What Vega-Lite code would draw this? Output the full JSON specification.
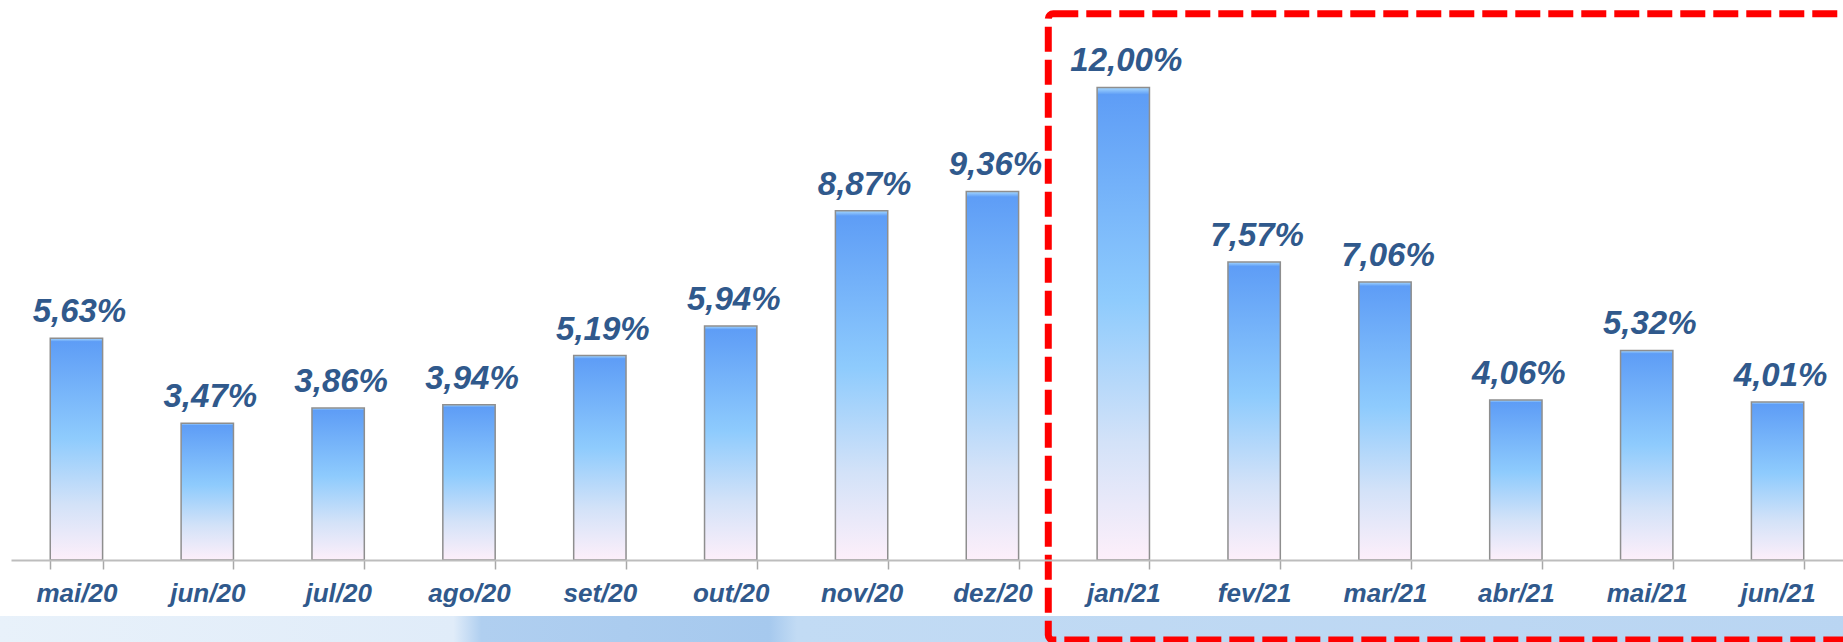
{
  "$schema": "https://vega.github.io/schema/vega-lite/v6.json",
  "width": 1832,
  "height": 560,
  "autosize": {"type": "none"},
  "padding": {"left": 11, "top": 0, "right": 0, "bottom": 82},
  "background": "#FFFFFF",
  "config": {"view": {"stroke": null}},
  "data": {"values": [
    {"mes": "mai/20", "valor": 5.63, "rotulo": "5,63%"},
    {"mes": "jun/20", "valor": 3.47, "rotulo": "3,47%"},
    {"mes": "jul/20", "valor": 3.86, "rotulo": "3,86%"},
    {"mes": "ago/20", "valor": 3.94, "rotulo": "3,94%"},
    {"mes": "set/20", "valor": 5.19, "rotulo": "5,19%"},
    {"mes": "out/20", "valor": 5.94, "rotulo": "5,94%"},
    {"mes": "nov/20", "valor": 8.87, "rotulo": "8,87%"},
    {"mes": "dez/20", "valor": 9.36, "rotulo": "9,36%"},
    {"mes": "jan/21", "valor": 12.00, "rotulo": "12,00%"},
    {"mes": "fev/21", "valor": 7.57, "rotulo": "7,57%"},
    {"mes": "mar/21", "valor": 7.06, "rotulo": "7,06%"},
    {"mes": "abr/21", "valor": 4.06, "rotulo": "4,06%"},
    {"mes": "mai/21", "valor": 5.32, "rotulo": "5,32%"},
    {"mes": "jun/21", "valor": 4.01, "rotulo": "4,01%"}
  ]},
  "encoding": {
    "x": {
      "field": "mes", "type": "nominal", "sort": null,
      "scale": {
        "domain": ["mai/20", "jun/20", "jul/20", "ago/20", "set/20", "out/20", "nov/20", "dez/20", "jan/21", "fev/21", "mar/21", "abr/21", "mai/21", "jun/21"],
        "paddingInner": 0.6, "paddingOuter": 0.3
      },
      "axis": {
        "title": null, "labelAngle": 0, "tickBand": "extent",
        "domainColor": "#BDBDBD", "domainWidth": 2,
        "tickColor": "#A8A8A8", "tickWidth": 1.5, "tickSize": 9,
        "labelFont": "Liberation Sans", "labelFontSize": 26, "labelFontWeight": "bold", "labelFontStyle": "italic",
        "labelColor": "#30598C", "labelPadding": 11
      }
    },
    "y": {
      "field": "valor", "type": "quantitative",
      "scale": {"domain": [0, 14.22], "nice": false, "zero": true},
      "axis": null
    }
  },
  "layer": [
    {
      "data": {"values": [{"inicio": "mai/20", "fim": "jun/21", "topo": -1.42, "base": -2.2}]},
      "mark": {
        "type": "rect", "xOffset": -78, "x2Offset": 78,
        "color": {"gradient": "linear", "x1": 0, "y1": 0, "x2": 1, "y2": 0,
          "stops": [
            {"offset": 0, "color": "#E8F1FA"},
            {"offset": 0.245, "color": "#E0ECF9"},
            {"offset": 0.26, "color": "#B0CFF0"},
            {"offset": 0.415, "color": "#A6C9EE"},
            {"offset": 0.43, "color": "#C2DBF4"},
            {"offset": 1, "color": "#B9D5F2"}
          ]}
      },
      "encoding": {
        "x": {"field": "inicio", "type": "nominal"},
        "x2": {"field": "fim"},
        "y": {"field": "topo", "type": "quantitative"},
        "y2": {"field": "base"}
      }
    },
    {
      "mark": {
        "type": "bar", "stroke": "#8E8E8E", "strokeWidth": 1.5,
        "color": {"gradient": "linear", "x1": 0, "y1": 0, "x2": 0, "y2": 1,
          "stops": [
            {"offset": 0, "color": "#A8DAFF"},
            {"offset": 0.015, "color": "#5E9DF6"},
            {"offset": 0.45, "color": "#8ECBFD"},
            {"offset": 0.75, "color": "#D3E2F8"},
            {"offset": 1, "color": "#FDEFFA"}
          ]}
      }
    },
    {
      "mark": {
        "type": "text", "baseline": "alphabetic", "dy": -16, "dx": 3,
        "font": "Liberation Sans", "fontSize": 33, "fontWeight": "bold", "fontStyle": "italic",
        "color": "#30598C"
      },
      "encoding": {"text": {"field": "rotulo"}}
    },
    {
      "data": {"values": [{"inicio": "jan/21", "fim": "jun/21", "topo": 13.87, "base": -2.03}]},
      "mark": {
        "type": "rect", "fill": null, "fillOpacity": 0, "stroke": "#FF0000", "strokeWidth": 7,
        "strokeDash": [25, 8], "cornerRadius": 5, "xOffset": -75, "x2Offset": 72
      },
      "encoding": {
        "x": {"field": "inicio", "type": "nominal"},
        "x2": {"field": "fim"},
        "y": {"field": "topo", "type": "quantitative"},
        "y2": {"field": "base"}
      }
    }
  ]
}
